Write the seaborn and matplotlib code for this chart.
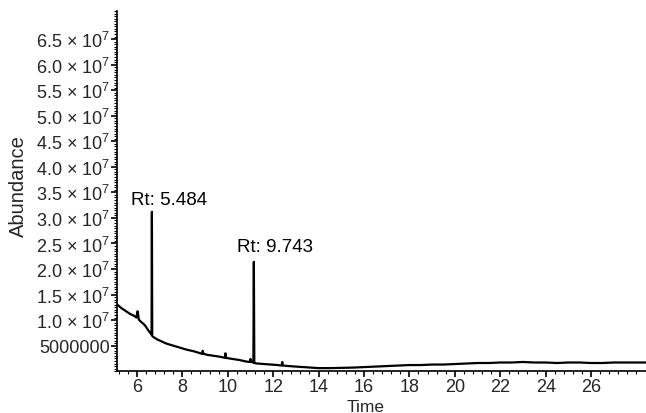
import matplotlib
matplotlib.use("Agg")
import matplotlib.pyplot as plt
import matplotlib.ticker as mticker
import seaborn as sns
import pandas as pd

# ---- data ----
time = [5.12, 5.3, 5.5, 5.7, 5.85, 5.98, 6.02, 6.04, 6.08, 6.1, 6.2, 6.35, 6.5, 6.62,
        6.645, 6.66, 6.675, 6.72, 6.9, 7.1, 7.3, 7.6, 7.9, 8.2, 8.5, 8.8, 8.87, 8.9, 8.93,
        9.1, 9.4, 9.7, 9.88, 9.9, 9.93, 10.2, 10.5, 10.8, 10.97, 11.0, 11.05, 11.13,
        11.15, 11.17, 11.3, 11.6, 11.9, 12.2, 12.37, 12.4, 12.43, 12.7, 13.0, 13.5, 14.0,
        14.5, 15.0, 15.5, 16.0, 16.5, 17.0, 17.5, 18.0, 18.5, 19.0, 19.5, 20.0, 20.5,
        21.0, 21.5, 22.0, 22.5, 23.0, 23.5, 24.0, 24.5, 25.0, 25.5, 26.0, 26.5, 27.0,
        27.5, 28.0, 28.42]
abundance = [13.1e6, 12.4e6, 11.8e6, 11.2e6, 10.9e6, 10.5e6, 11.7e6, 11.7e6, 10.2e6, 10.0e6,
             9.6e6, 9.0e6, 8.0e6, 7.3e6,
             7.1e6, 31.2e6, 6.9e6, 6.7e6, 6.2e6, 5.8e6, 5.4e6, 5.0e6, 4.6e6, 4.2e6, 3.9e6,
             3.5e6, 3.4e6, 4.0e6, 3.4e6,
             3.2e6, 3.0e6, 2.8e6, 2.6e6, 3.5e6, 2.6e6, 2.4e6, 2.2e6, 1.9e6, 1.8e6, 2.4e6,
             1.8e6, 1.7e6,
             21.4e6, 1.6e6, 1.5e6, 1.4e6, 1.3e6, 1.2e6, 1.1e6, 1.8e6, 1.1e6, 1.0e6, 0.9e6,
             0.75e6, 0.6e6,
             0.6e6, 0.65e6, 0.7e6, 0.8e6, 0.9e6, 1.0e6, 1.1e6, 1.2e6, 1.2e6, 1.3e6, 1.3e6,
             1.4e6, 1.5e6,
             1.6e6, 1.6e6, 1.7e6, 1.7e6, 1.8e6, 1.7e6, 1.7e6, 1.6e6, 1.7e6, 1.7e6, 1.6e6,
             1.6e6, 1.7e6,
             1.7e6, 1.7e6, 1.7e6]

peak_labels = ["Rt: 5.484", "Rt: 9.743"]
peak_label_x = [5.74, 10.41]
peak_label_y = [33.7e6, 24.5e6]

ytick_values = [5e6, 1.0e7, 1.5e7, 2.0e7, 2.5e7, 3.0e7, 3.5e7, 4.0e7, 4.5e7, 5.0e7,
                5.5e7, 6.0e7, 6.5e7]
ytick_labels = ["5000000"] + ["%.1f \u00d7 10$^{7}$" % (v / 1e7) for v in ytick_values[1:]]
xtick_values = [6, 8, 10, 12, 14, 16, 18, 20, 22, 24, 26]

df = pd.DataFrame({"Time": time, "Abundance": abundance})

sns.set_theme(style="ticks")
plt.rcParams["font.family"] = ["Liberation Sans", "DejaVu Sans"]
plt.rcParams["mathtext.fontset"] = "custom"
plt.rcParams["mathtext.rm"] = "Liberation Sans"
plt.rcParams["mathtext.it"] = "Liberation Sans"
plt.rcParams["mathtext.default"] = "regular"

fig = plt.figure(figsize=(6.46, 4.14), dpi=100)
ax = fig.add_axes([0.181, 0.101, 0.819, 0.870])

sns.lineplot(data=df, x="Time", y="Abundance", color="black", linewidth=1.6,
             estimator=None, ax=ax)

for lab, lx, ly in zip(peak_labels, peak_label_x, peak_label_y):
    ax.text(lx, ly, lab, fontsize=13.5, ha="left", va="center", color="black")

ax.set_xlim(5.12, 28.42)
ax.set_ylim(0, 7.05e7)
ax.set_yticks(ytick_values)
ax.set_yticklabels(ytick_labels, fontsize=13)
ax.set_xticks(xtick_values)
ax.set_xticklabels([str(v) for v in xtick_values], fontsize=13)
ax.xaxis.set_minor_locator(mticker.MultipleLocator(0.4))
ax.yaxis.set_minor_locator(mticker.MultipleLocator(5e5))
ax.tick_params(axis="both", which="major", length=4, width=1.2, color="black", pad=1)
ax.tick_params(axis="both", which="minor", length=2.5, width=0.8, color="black")
ax.set_xlabel("Time", fontsize=12.5)
ax.set_ylabel("Abundance", fontsize=14.5)
ax.xaxis.set_label_coords(0.471, -0.078)
ax.yaxis.set_label_coords(-0.168, 0.517)
for side in ["top", "right"]:
    ax.spines[side].set_visible(False)
for side in ["left", "bottom"]:
    ax.spines[side].set_color("black")
    ax.spines[side].set_linewidth(1.2)

fig.savefig("out.png", dpi=100)
